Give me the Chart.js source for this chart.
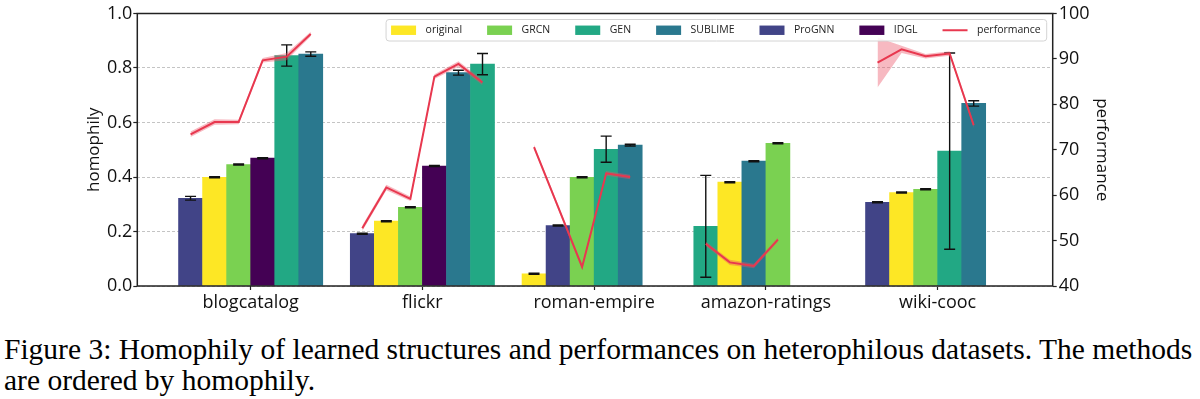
<!DOCTYPE html>
<html lang="en">
<head>
  <meta charset="UTF-8">
  <title>Homophily vs performance</title>
  <script src="https://cdn.jsdelivr.net/npm/chart.js"></script>
  <style>
    body { margin: 0; background: #fff; width: 1200px; height: 399px; position: relative; overflow: hidden; }
    #chartBox { position: absolute; left: 0; top: 0; }
    #caption { position: absolute; left: 4px; top: 334px; width: 1186px; font-family: "Liberation Serif", "Times New Roman", serif; font-size: 29.5px; line-height: 30.7px; color: #000; }
    #caption .full { text-align: justify; text-align-last: justify; white-space: nowrap; }
  </style>
</head>
<body>
  <div id="chartBox">
    <canvas id="homChart" width="1200" height="320"></canvas>
  </div>
  <div id="caption">
    <div class="full">Figure 3: Homophily of learned structures and performances on heterophilous datasets. The methods</div>
    <div>are ordered by homophily.</div>
  </div>

  <script>
    // datasets on the x axis
    const groups = ['blogcatalog', 'flickr', 'roman-empire', 'amazon-ratings', 'wiki-cooc'];
    // methods (legend order)
    const methods = ['original', 'GRCN', 'GEN', 'SUBLIME', 'ProGNN', 'IDGL'];
    const methodColors = ['#fde725', '#7ad151', '#22a884', '#2a788e', '#414487', '#440154'];

    // homophily of learned structure, rows = methods, cols = datasets (null = not available)
    const homophily = [
      [0.399, 0.238, 0.045, 0.381, 0.343],  // original
      [0.446, 0.289, 0.399, 0.524, 0.355],  // GRCN
      [0.846, 0.814, 0.502, 0.219, 0.495],  // GEN
      [0.851, 0.783, 0.517, 0.458, 0.670],  // SUBLIME
      [0.322, 0.192, 0.222, null, 0.307],   // ProGNN
      [0.469, 0.440, null, null, null]      // IDGL
    ];
    const homophilyStd = [
      [0.002, 0.002, 0.002, 0.002, 0.002],
      [0.002, 0.002, 0.002, 0.002, 0.002],
      [0.039, 0.039, 0.048, 0.187, 0.360],
      [0.008, 0.009, 0.003, 0.002, 0.010],
      [0.007, 0.002, 0.002, 0, 0.002],
      [0.002, 0.002, 0, 0, 0]
    ];

    // performance (right axis)
    const performance = [
      [76.1, 61.7, 70.6, 45.2, 92.1],  // original
      [76.1, 59.2, 44.2, 50.2, 90.6],  // GRCN
      [90.5, 84.8, 64.8, 49.3, 91.2],  // GEN
      [95.5, 88.9, 64.0, 44.4, 75.4],  // SUBLIME
      [73.4, 52.7, 57.4, null, 89.2],  // ProGNN
      [89.7, 86.1, null, null, null]   // IDGL
    ];
    const performanceStd = [
      [0.6, 0.6, 0.5, 0.6, 0.8],
      [0.5, 0.5, 0.5, 0.5, 0.5],
      [0.8, 0.6, 0.5, 0.5, 0.5],
      [0.5, 0.6, 0.5, 0.5, 0.6],
      [0.6, 0.6, 0.5, 0, 5.5],
      [0.5, 0.5, 0, 0, 0]
    ];

    const yTicks = [0, 0.2, 0.4, 0.6, 0.8, 1.0];
    const perfTicks = [40, 50, 60, 70, 80, 90, 100];

    const BAR_W = 0.14;
    const FONT = '"Open Sans", "DejaVu Sans", sans-serif';
    const RED = '#e8384f';

    // bars and line points, methods sorted by homophily inside each dataset
    const bars = [], perfLine = [], perfUp = [], perfLo = [];
    groups.forEach((g, gi) => {
      const order = methods.map((m, mi) => mi).sort((a, b) => {
        const ha = homophily[a][gi], hb = homophily[b][gi];
        if (ha == null) return 1;
        if (hb == null) return -1;
        return ha - hb;
      });
      order.forEach((mi, slot) => {
        const x = gi + (slot - 2.5) * BAR_W;
        const p = performance[mi][gi], ps = performanceStd[mi][gi];
        bars.push({ x: x, y: homophily[mi][gi], err: homophilyStd[mi][gi], color: methodColors[mi] });
        perfLine.push({ x: x, y: p });
        perfUp.push({ x: x, y: p == null ? null : p + ps });
        perfLo.push({ x: x, y: p == null ? null : p - ps });
      });
      perfLine.push({ x: gi + 0.5, y: null });
      perfUp.push({ x: gi + 0.5, y: null });
      perfLo.push({ x: gi + 0.5, y: null });
    });

    const errorBars = {
      id: 'errorBars',
      afterDatasetDraw(chart, args) {
        if (args.index !== 0) return;
        const ctx = chart.ctx, ys = chart.scales.y;
        const pts = chart.data.datasets[0].data;
        ctx.save();
        ctx.strokeStyle = '#111';
        ctx.lineWidth = 1.4;
        args.meta.data.forEach((el, i) => {
          const p = pts[i];
          if (p.y == null) return;
          const t = ys.getPixelForValue(p.y + p.err), b = ys.getPixelForValue(p.y - p.err);
          ctx.beginPath();
          ctx.moveTo(el.x, t); ctx.lineTo(el.x, b);
          ctx.moveTo(el.x - 5.5, t); ctx.lineTo(el.x + 5.5, t);
          ctx.moveTo(el.x - 5.5, b); ctx.lineTo(el.x + 5.5, b);
          ctx.stroke();
        });
        ctx.restore();
      }
    };

    const frameAndLegend = {
      id: 'frameAndLegend',
      afterDraw(chart) {
        const ctx = chart.ctx, a = chart.chartArea;
        ctx.save();
        ctx.strokeStyle = '#222';
        ctx.lineWidth = 1.5;
        ctx.strokeRect(a.left, a.top, a.right - a.left, a.bottom - a.top);

        // legend inside the plot, upper right
        ctx.font = '10.5px ' + FONT;
        const items = methods.map((m, i) => ({ label: m, color: methodColors[i], line: false }));
        items.push({ label: 'performance', color: RED, line: true });
        const sw = 25, gap = 9.5, sep = 25, padL = 5, padR = 6;
        let w = padL + padR;
        items.forEach((it, i) => { w += sw + gap + ctx.measureText(it.label).width + (i < items.length - 1 ? sep : 0); });
        const bx = a.right - 6 - w, by = a.top + 6, bh = 21.5;
        ctx.beginPath();
        ctx.roundRect(bx, by, w, bh, 3);
        ctx.fillStyle = 'rgba(255,255,255,0.85)';
        ctx.fill();
        ctx.strokeStyle = '#d4d4d4';
        ctx.lineWidth = 1;
        ctx.stroke();
        let x = bx + padL;
        const cy = by + bh / 2;
        ctx.textBaseline = 'middle';
        items.forEach(it => {
          if (it.line) {
            ctx.strokeStyle = it.color; ctx.lineWidth = 2;
            ctx.beginPath(); ctx.moveTo(x, cy); ctx.lineTo(x + sw, cy); ctx.stroke();
          } else {
            ctx.fillStyle = it.color;
            ctx.fillRect(x, cy - 4.7, sw, 9.4);
          }
          x += sw + gap;
          ctx.fillStyle = '#222';
          ctx.fillText(it.label, x, cy);
          x += ctx.measureText(it.label).width + sep;
        });
        ctx.restore();
      }
    };

    new Chart(document.getElementById('homChart'), {
      type: 'bar',
      data: {
        datasets: [
          {
            type: 'bar',
            label: 'homophily',
            data: bars,
            backgroundColor: bars.map(b => b.color),
            barThickness: 24,
            grouped: false,
            order: 3
          },
          {
            type: 'line',
            label: 'upper',
            data: perfUp,
            yAxisID: 'y1',
            borderWidth: 0,
            borderColor: 'rgba(0,0,0,0)',
            pointRadius: 0,
            spanGaps: false,
            fill: false,
            order: 2
          },
          {
            type: 'line',
            label: 'lower',
            data: perfLo,
            yAxisID: 'y1',
            borderWidth: 0,
            borderColor: 'rgba(0,0,0,0)',
            backgroundColor: 'rgba(236,80,100,0.4)',
            pointRadius: 0,
            spanGaps: false,
            fill: '-1',
            order: 2
          },
          {
            type: 'line',
            label: 'performance',
            data: perfLine,
            yAxisID: 'y1',
            borderColor: RED,
            borderWidth: 2,
            pointRadius: 0,
            tension: 0,
            spanGaps: false,
            order: 1
          }
        ]
      },
      options: {
        responsive: false,
        animation: false,
        devicePixelRatio: 1,
        layout: { padding: { top: 13.5, left: 0, right: 0, bottom: 0 } },
        plugins: { legend: { display: false }, tooltip: { enabled: false } },
        scales: {
          x: {
            type: 'linear',
            min: -0.66,
            max: 4.67,
            offset: false,
            afterFit: s => { s.height = 34; },
            afterBuildTicks: s => { s.ticks = groups.map((g, i) => ({ value: i })); },
            ticks: {
              autoSkip: false,
              maxRotation: 0,
              padding: 2,
              color: '#111',
              font: { family: FONT, size: 18 },
              callback: v => groups[v]
            },
            grid: { offset: false, drawOnChartArea: false, drawTicks: true, tickLength: 4, tickColor: '#222', tickWidth: 1.2 },
            border: { display: false }
          },
          y: {
            position: 'left',
            min: 0,
            max: 1,
            afterFit: s => { s.width = 137.3; },
            afterBuildTicks: s => { s.ticks = yTicks.map(v => ({ value: v })); },
            ticks: {
              padding: 1,
              color: '#111',
              font: { family: FONT, size: 18 },
              callback: v => v.toFixed(1)
            },
            grid: { color: '#c4c4c4', lineWidth: 1, tickLength: 4, tickColor: '#222', tickWidth: 1.2, tickBorderDash: [] },
            border: { display: false, dash: [3, 2] },
            title: { display: true, text: 'homophily', color: '#111', font: { family: FONT, size: 17 }, padding: { top: 84 } }
          },
          y1: {
            position: 'right',
            min: 40,
            max: 100,
            afterFit: s => { s.width = 147.3; },
            afterBuildTicks: s => { s.ticks = perfTicks.map(v => ({ value: v })); },
            ticks: {
              padding: 2,
              color: '#111',
              font: { family: FONT, size: 18 }
            },
            grid: { drawOnChartArea: false, tickLength: 4, tickColor: '#222', tickWidth: 1.2 },
            border: { display: false },
            title: { display: true, text: 'performance', color: '#111', font: { family: FONT, size: 17 }, padding: { top: 88 } }
          }
        }
      },
      plugins: [errorBars, frameAndLegend]
    });
  </script>
</body>
</html>
